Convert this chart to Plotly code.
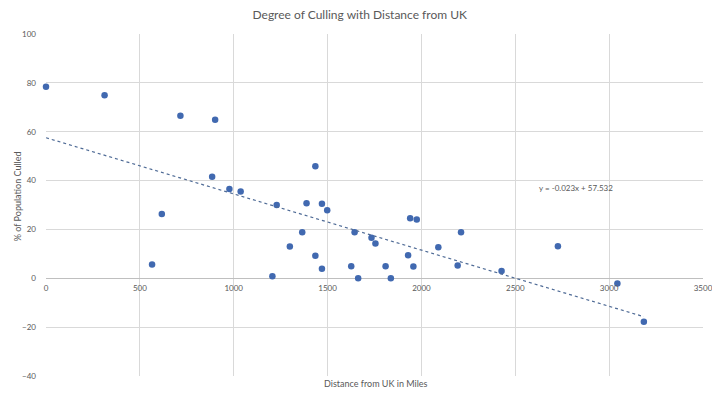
import plotly.graph_objects as go

# Data
distance_miles = [0, 312, 565, 617, 716, 885, 901, 977, 1037, 1206,
                  1229, 1299, 1365, 1388, 1435, 1435, 1470, 1470, 1498, 1626,
                  1644, 1663, 1734, 1755, 1809, 1837, 1929, 1940, 1957, 1975,
                  2090, 2193, 2211, 2427, 2727, 3044, 3185]
pct_culled = [78.4, 74.9, 5.6, 26.3, 66.5, 41.6, 64.9, 36.5, 35.5, 0.8,
              30.0, 13.0, 18.8, 30.7, 45.9, 9.2, 30.5, 3.9, 27.9, 4.9,
              18.8, 0.0, 16.6, 14.2, 4.9, 0.0, 9.4, 24.6, 4.8, 24.1,
              12.7, 5.2, 18.8, 3.0, 13.1, -2.1, -17.8]

trend_slope = -0.023
trend_intercept = 57.532
trend_label = "y = -0.023x + 57.532"

title_text = "Degree of Culling with Distance from UK"
x_title = "Distance from UK in Miles"
y_title = "% of Population Culled"

x_ticks = [0, 500, 1000, 1500, 2000, 2500, 3000, 3500]
y_ticks = [-40, -20, 0, 20, 40, 60, 80, 100]

trend_x = [min(distance_miles), max(distance_miles)]
trend_y = [trend_slope * v + trend_intercept for v in trend_x]

FONT = "Lato"
GRAY = "#595959"
GRID = "#d9d9d9"
BLUE = "#4169B0"
TREND = "#4F6B96"

fig = go.Figure()
fig.add_trace(go.Scatter(
    x=distance_miles, y=pct_culled, mode="markers",
    marker=dict(color=BLUE, size=6.5, line=dict(width=0)),
    showlegend=False, cliponaxis=False))
fig.add_trace(go.Scatter(
    x=trend_x, y=trend_y, mode="lines",
    line=dict(color=TREND, width=1.2, dash="dot"),
    showlegend=False))

fig.add_annotation(x=2823, y=37.1, text=trend_label, showarrow=False,
                   font=dict(family=FONT, size=8, color=GRAY))
fig.add_annotation(x=0.502, y=-0.0205, xref="paper", yref="paper", yanchor="middle",
                   text=x_title, showarrow=False,
                   font=dict(family=FONT, size=9, color=GRAY))
fig.add_annotation(x=-0.044, y=0.526, xref="paper", yref="paper", xanchor="center",
                   yanchor="middle", textangle=-90,
                   text=y_title, showarrow=False,
                   font=dict(family=FONT, size=9, color=GRAY))

y0_frac = (0 - (-40)) / (100 - (-40))

fig.update_layout(
    width=712, height=390,
    paper_bgcolor="white", plot_bgcolor="white",
    margin=dict(l=38, r=17, t=26, b=22),
    title=dict(text=title_text, x=0.494, xanchor="center", y=0.982, yanchor="middle",
               font=dict(family=FONT, size=12, color=GRAY)),
    xaxis=dict(range=[0, 3500], tickvals=x_ticks, showgrid=True, gridcolor=GRID,
               gridwidth=1, zeroline=False, showline=False, automargin=False,
               anchor="free", position=y0_frac,
               tickfont=dict(family=FONT, size=8, color=GRAY), ticks="",
               ticklabelstandoff=4),
    yaxis=dict(range=[-40, 100], tickvals=y_ticks, showgrid=True, gridcolor=GRID,
               gridwidth=1, zeroline=True, zerolinecolor="#bfbfbf", zerolinewidth=1,
               showline=False, automargin=False,
               tickfont=dict(family=FONT, size=8, color=GRAY), ticks="",
               ticklabelstandoff=9),
)

fig.write_html("out.html")
